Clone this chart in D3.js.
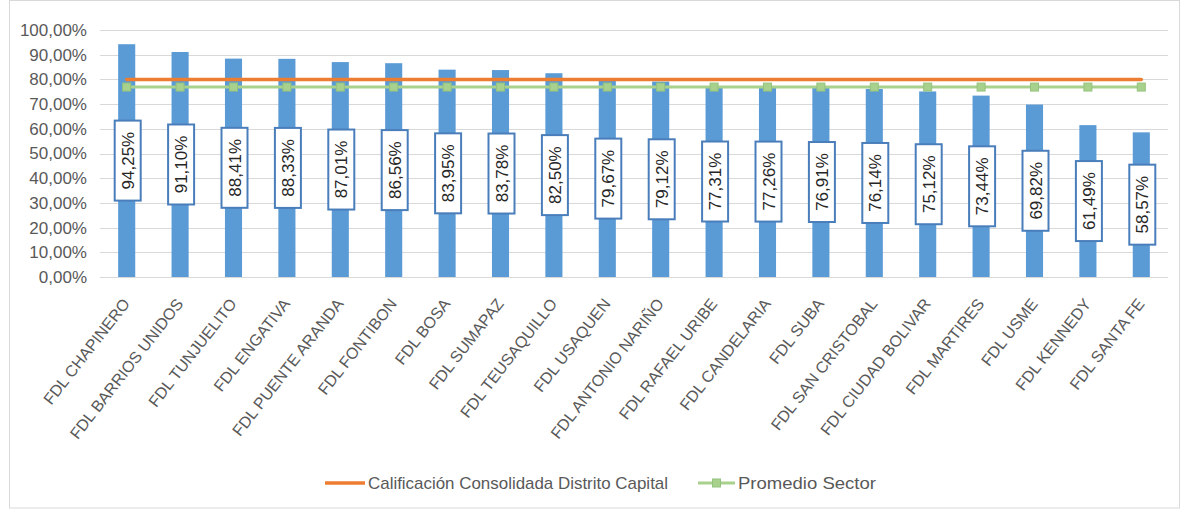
<!DOCTYPE html>
<html>
<head>
<meta charset="utf-8">
<script src="https://cdn.jsdelivr.net/npm/d3@7"></script>
<style>
  html, body { margin: 0; padding: 0; background: #ffffff; }
  svg { display: block; font-family: "Liberation Sans", Arial, sans-serif; }
</style>
</head>
<body>
<svg id="chart" width="1187" height="512"></svg>
<script>
const categories = [
  "FDL CHAPINERO", "FDL BARRIOS UNIDOS", "FDL TUNJUELITO", "FDL ENGATIVA",
  "FDL PUENTE ARANDA", "FDL FONTIBON", "FDL BOSA", "FDL SUMAPAZ",
  "FDL TEUSAQUILLO", "FDL USAQUEN", "FDL ANTONIO NARIÑO", "FDL RAFAEL URIBE",
  "FDL CANDELARIA", "FDL SUBA", "FDL SAN CRISTOBAL", "FDL CIUDAD BOLIVAR",
  "FDL MARTIRES", "FDL USME", "FDL KENNEDY", "FDL SANTA FE"
];
const calificacion = [
  94.25, 91.10, 88.41, 88.33, 87.01, 86.56, 83.95, 83.78, 82.50, 79.67,
  79.12, 77.31, 77.26, 76.91, 76.14, 75.12, 73.44, 69.82, 61.49, 58.57
];
const consolidadaDistrito = [
  80, 80, 80, 80, 80, 80, 80, 80, 80, 80,
  80, 80, 80, 80, 80, 80, 80, 80, 80, 80
];
const promedioSector = [
  76.9, 76.9, 76.9, 76.9, 76.9, 76.9, 76.9, 76.9, 76.9, 76.9,
  76.9, 76.9, 76.9, 76.9, 76.9, 76.9, 76.9, 76.9, 76.9, 76.9
];
const yTicks = [0, 10, 20, 30, 40, 50, 60, 70, 80, 90, 100];
const legendLabels = ["Calificación Consolidada Distrito Capital", "Promedio Sector"];

const fmt = v => v.toFixed(2).replace(".", ",") + "%";

const svg = d3.select("#chart");
const plot = { left: 100, right: 1168, top: 30, bottom: 277 };

// outer border
svg.append("rect")
  .attr("x", 9.5).attr("y", 0.5).attr("width", 1170).attr("height", 507.5)
  .attr("fill", "#ffffff").attr("stroke", "#d9d9d9").attr("stroke-width", 1);

const x = d3.scaleBand().domain(categories)
  .range([plot.left, plot.right]).paddingInner(0.68).paddingOuter(0.34);
const y = d3.scaleLinear().domain([0, 100]).range([plot.bottom, plot.top]);
const cx = c => x(c) + x.bandwidth() / 2;

// gridlines
svg.append("g").selectAll("line").data(yTicks).join("line")
  .attr("x1", plot.left).attr("x2", plot.right)
  .attr("y1", d => Math.round(y(d)) + 0.5).attr("y2", d => Math.round(y(d)) + 0.5)
  .attr("stroke", "#d9d9d9").attr("stroke-width", 1);

// y axis labels
const yAxis = d3.axisLeft(y).tickValues(yTicks).tickSize(0).tickPadding(0)
  .tickFormat(d => fmt(d));
const gy = svg.append("g").attr("transform", `translate(${plot.left - 13},0)`).call(yAxis);
gy.select(".domain").remove();
gy.selectAll("text").attr("fill", "#595959").style("font-size", "17px")
  .style("font-family", "'Liberation Sans', Arial, sans-serif");

// x axis labels
const xAxis = d3.axisBottom(x).tickSize(0).tickPadding(0);
const gx = svg.append("g").attr("transform", `translate(0,${plot.bottom})`).call(xAxis);
gx.select(".domain").remove();
gx.selectAll(".tick text")
  .attr("fill", "#595959").style("font-size", "16px")
  .style("font-family", "'Liberation Sans', Arial, sans-serif")
  .attr("text-anchor", "end")
  .attr("y", 0).attr("dy", 0)
  .attr("transform", "translate(4,27) rotate(-52)");

// bars
svg.append("g").selectAll("rect").data(calificacion).join("rect")
  .attr("x", (d, i) => x(categories[i]))
  .attr("width", x.bandwidth())
  .attr("y", d => y(d))
  .attr("height", d => y(0) - y(d))
  .attr("fill", "#5b9bd5");

// orange line
const line = d3.line().x((d, i) => cx(categories[i])).y(d => y(d));
svg.append("path").datum(consolidadaDistrito)
  .attr("d", line).attr("fill", "none")
  .attr("stroke", "#ed7d31").attr("stroke-width", 3.5).attr("stroke-linecap", "round");

// green line + markers
svg.append("path").datum(promedioSector)
  .attr("d", line).attr("fill", "none")
  .attr("stroke", "#a9d18e").attr("stroke-width", 3);
svg.append("g").selectAll("rect").data(promedioSector).join("rect")
  .attr("x", (d, i) => cx(categories[i]) - 4)
  .attr("y", d => y(d) - 4)
  .attr("width", 8).attr("height", 8)
  .attr("fill", "#a9d18e").attr("stroke", "#93c47d").attr("stroke-width", 1);

// data labels
const lbl = svg.append("g").selectAll("g").data(calificacion).join("g")
  .attr("transform", (d, i) => `translate(${cx(categories[i]) + 1},${y(d / 2)})`);
lbl.append("rect")
  .attr("x", -13).attr("y", -40).attr("width", 26).attr("height", 80)
  .attr("fill", "#ffffff").attr("stroke", "#4a7ebb").attr("stroke-width", 2);
lbl.append("text")
  .attr("transform", "rotate(-90)")
  .attr("text-anchor", "middle").attr("dy", "0.36em")
  .attr("fill", "#262626").style("font-size", "17px")
  .text(d => fmt(d));

// legend
const ly = 483;
const leg = svg.append("g");
leg.append("line").attr("x1", 325).attr("x2", 365).attr("y1", ly).attr("y2", ly)
  .attr("stroke", "#ed7d31").attr("stroke-width", 3.5);
leg.append("text").attr("x", 368).attr("y", ly).attr("dy", "0.35em")
  .attr("fill", "#595959").style("font-size", "17px")
  .attr("textLength", 300).attr("lengthAdjust", "spacingAndGlyphs")
  .text(legendLabels[0]);
leg.append("line").attr("x1", 698).attr("x2", 735).attr("y1", ly).attr("y2", ly)
  .attr("stroke", "#a9d18e").attr("stroke-width", 3);
leg.append("rect").attr("x", 712.5).attr("y", ly - 4).attr("width", 8).attr("height", 8)
  .attr("fill", "#a9d18e").attr("stroke", "#93c47d").attr("stroke-width", 1);
leg.append("text").attr("x", 738).attr("y", ly).attr("dy", "0.35em")
  .attr("fill", "#595959").style("font-size", "17px")
  .attr("textLength", 138).attr("lengthAdjust", "spacingAndGlyphs")
  .text(legendLabels[1]);
</script>
</body>
</html>
